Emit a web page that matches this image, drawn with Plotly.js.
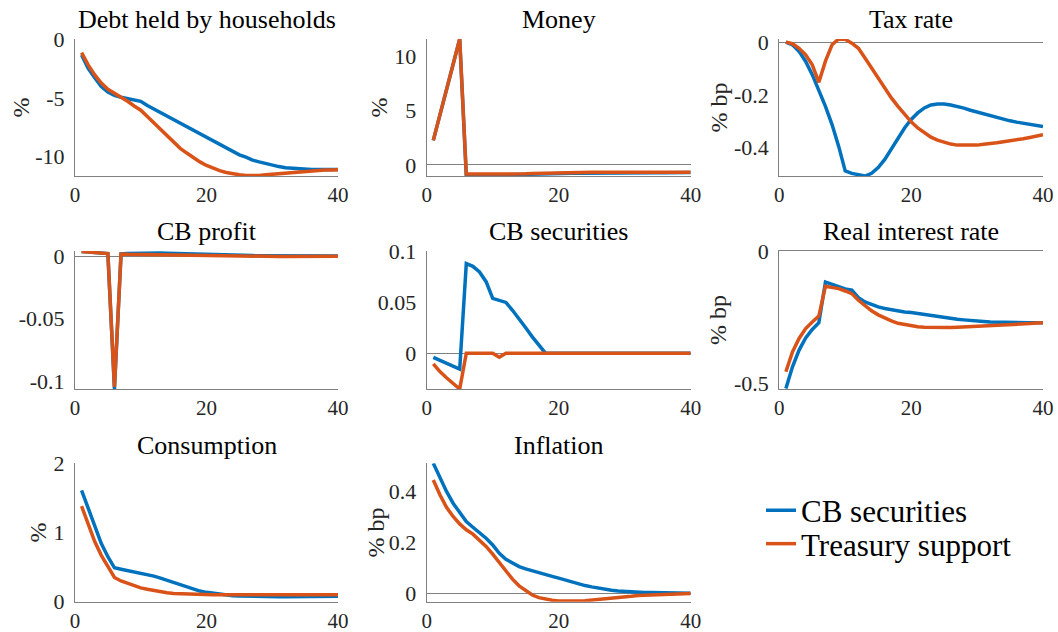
<!DOCTYPE html>
<html>
<head>
<meta charset="utf-8">
<script src="https://cdn.plot.ly/plotly-3.0.1.min.js"></script>
<style>html,body{margin:0;padding:0;background:#fff;}#chart{width:1058px;height:632px;}</style>
</head>
<body>
<div id="chart"></div>
<script>
// ---- data ----
const periods = [1,2,3,4,5,6,7,8,9,10,11,12,13,14,15,16,17,18,19,20,21,22,23,24,25,26,27,28,29,30,31,32,33,34,35,36,37,38,39,40];
const seriesNames = ["CB securities", "Treasury support"];
const panelTitles = ["Debt held by households","Money","Tax rate","CB profit","CB securities","Real interest rate","Consumption","Inflation"];
const unitLabels = ["%","%","% bp","","","% bp","%","% bp"];

const debtCB = [-1.36,-2.5,-3.3,-4.05,-4.5,-4.8,-4.95,-5.05,-5.15,-5.3,-5.65,-5.95,-6.25,-6.55,-6.85,-7.15,-7.45,-7.75,-8.05,-8.35,-8.65,-8.95,-9.3,-9.55,-9.85,-10.05,-10.3,-10.45,-10.6,-10.75,-10.85,-10.95,-11.0,-11.05,-11.08,-11.1,-11.1,-11.1,-11.1,-11.1];
const debtTS = [-1.16,-2.2,-3.05,-3.75,-4.28,-4.6,-4.95,-5.3,-5.7,-6.05,-6.6,-7.15,-7.7,-8.3,-8.8,-9.3,-9.7,-10.1,-10.45,-10.75,-11.0,-11.2,-11.35,-11.47,-11.55,-11.6,-11.62,-11.6,-11.55,-11.5,-11.45,-11.38,-11.33,-11.28,-11.24,-11.2,-11.18,-11.15,-11.14,-11.12];

const moneyCB = [2.25,4.6,6.95,9.3,11.6,-1.02,-1.0,-0.98,-0.97,-0.96,-0.95,-0.93,-0.91,-0.89,-0.87,-0.85,-0.83,-0.81,-0.8,-0.79,-0.78,-0.77,-0.77,-0.76,-0.76,-0.75,-0.75,-0.75,-0.74,-0.74,-0.74,-0.73,-0.73,-0.73,-0.72,-0.72,-0.72,-0.71,-0.71,-0.71];
const moneyTS = [2.25,4.6,6.95,9.3,11.6,-0.85,-0.85,-0.86,-0.87,-0.88,-0.89,-0.9,-0.88,-0.86,-0.83,-0.8,-0.78,-0.76,-0.74,-0.72,-0.71,-0.7,-0.7,-0.69,-0.69,-0.69,-0.68,-0.68,-0.68,-0.68,-0.68,-0.68,-0.68,-0.68,-0.68,-0.68,-0.68,-0.68,-0.68,-0.68];

const taxCB = [0,-0.01,-0.035,-0.073,-0.123,-0.18,-0.243,-0.312,-0.394,-0.488,-0.497,-0.502,-0.507,-0.497,-0.475,-0.444,-0.406,-0.362,-0.325,-0.293,-0.268,-0.249,-0.238,-0.234,-0.234,-0.238,-0.243,-0.25,-0.258,-0.265,-0.273,-0.28,-0.287,-0.293,-0.298,-0.303,-0.308,-0.312,-0.316,-0.32];
const taxTS = [0,-0.006,-0.023,-0.048,-0.086,-0.152,-0.072,-0.01,0.012,0.011,-0.004,-0.023,-0.06,-0.098,-0.136,-0.174,-0.211,-0.243,-0.274,-0.302,-0.325,-0.343,-0.36,-0.371,-0.38,-0.386,-0.39,-0.391,-0.391,-0.39,-0.387,-0.385,-0.381,-0.377,-0.374,-0.37,-0.366,-0.361,-0.356,-0.351];

const profitCB = [0.004,0.0035,0.003,0.0027,0.0024,-0.1066,0.0022,0.0024,0.0026,0.0027,0.0028,0.0028,0.0028,0.0027,0.0025,0.0023,0.0021,0.0019,0.0017,0.0015,0.0013,0.0012,0.0011,0.001,0.0009,0.0008,0.0008,0.0007,0.0007,0.0006,0.0006,0.0006,0.0005,0.0005,0.0005,0.0005,0.0005,0.0005,0.0005,0.0005];
const profitTS = [0.004,0.0035,0.003,0.0027,0.0024,-0.105,0.002,0.0018,0.0017,0.0016,0.0015,0.0014,0.0013,0.0012,0.0011,0.001,0.0009,0.0008,0.0007,0.0006,0.0005,0.0004,0.0003,0.0003,0.0002,0.0002,0.0001,0.0001,0.0001,0.0001,0.0001,0.0001,0.0001,0.0002,0.0002,0.0002,0.0002,0.0002,0.0003,0.0003];

const secCB = [-0.004,-0.007,-0.010,-0.013,-0.0156,0.0877,0.085,0.0795,0.07,0.0536,0.052,0.0497,0.042,0.034,0.025,0.016,0.008,0,0,0,0,0,0,0,0,0,0,0,0,0,0,0,0,0,0,0,0,0,0,0];
const secTS = [-0.0104,-0.018,-0.024,-0.03,-0.035,0,0,0,0,0,-0.004,0,0,0,0,0,0,0,0,0,0,0,0,0,0,0,0,0,0,0,0,0,0,0,0,0,0,0,0,0];

const realCB = [-0.519,-0.437,-0.374,-0.328,-0.296,-0.271,-0.117,-0.126,-0.136,-0.143,-0.148,-0.176,-0.192,-0.202,-0.211,-0.217,-0.222,-0.226,-0.23,-0.232,-0.236,-0.24,-0.244,-0.247,-0.251,-0.255,-0.258,-0.26,-0.263,-0.265,-0.266,-0.268,-0.269,-0.27,-0.27,-0.27,-0.271,-0.271,-0.271,-0.271];
const realTS = [-0.456,-0.381,-0.33,-0.293,-0.268,-0.246,-0.133,-0.136,-0.142,-0.151,-0.161,-0.186,-0.207,-0.226,-0.241,-0.254,-0.264,-0.273,-0.278,-0.283,-0.286,-0.288,-0.289,-0.289,-0.289,-0.289,-0.288,-0.287,-0.286,-0.285,-0.284,-0.282,-0.281,-0.28,-0.278,-0.277,-0.275,-0.274,-0.272,-0.271];

const consCB = [1.61,1.35,1.08,0.84,0.65,0.49,0.47,0.45,0.43,0.41,0.395,0.37,0.34,0.31,0.28,0.245,0.21,0.183,0.154,0.135,0.12,0.106,0.096,0.087,0.082,0.078,0.075,0.073,0.072,0.071,0.071,0.071,0.071,0.072,0.072,0.073,0.074,0.075,0.076,0.077];
const consTS = [1.38,1.11,0.87,0.67,0.51,0.35,0.30,0.265,0.23,0.20,0.18,0.16,0.14,0.13,0.12,0.115,0.11,0.108,0.105,0.103,0.1,0.1,0.1,0.1,0.1,0.1,0.1,0.1,0.1,0.1,0.1,0.1,0.1,0.1,0.1,0.1,0.1,0.1,0.1,0.1];

const inflCB = [0.508,0.45,0.398,0.352,0.313,0.28,0.258,0.237,0.215,0.189,0.156,0.133,0.117,0.104,0.095,0.087,0.081,0.074,0.066,0.059,0.051,0.043,0.037,0.03,0.025,0.02,0.016,0.012,0.009,0.007,0.005,0.004,0.003,0.003,0.002,0.001,0.001,0.001,0.0,0.0];
const inflTS = [0.443,0.385,0.336,0.30,0.271,0.248,0.231,0.209,0.183,0.153,0.12,0.085,0.055,0.029,0.01,-0.007,-0.017,-0.023,-0.027,-0.03,-0.031,-0.031,-0.03,-0.029,-0.027,-0.025,-0.022,-0.02,-0.017,-0.014,-0.012,-0.009,-0.008,-0.007,-0.005,-0.004,-0.003,-0.001,-0.001,-0.001];

const xTickVals = [0,20,40];
const xTickText = ["0","20","40"];
const yTickVals = [[-10,-5,0],[0,5,10],[-0.4,-0.2,0],[-0.1,-0.05,0],[0,0.05,0.1],[-0.5,0],[0,1,2],[0,0.2,0.4]];
const yTickText = [["-10","-5","0"],["0","5","10"],["-0.4","-0.2","0"],["-0.1","-0.05","0"],["0","0.05","0.1"],["-0.5","0"],["0","1","2"],["0","0.2","0.4"]];
const yRanges = [[-11.65,0],[-1.03,11.6],[-0.507,0.012],[-0.1066,0.0045],[-0.035,0.1],[-0.521,0],[0,2],[-0.033,0.508]];
const cbSeries = [debtCB, moneyCB, taxCB, profitCB, secCB, realCB, consCB, inflCB];
const tsSeries = [debtTS, moneyTS, taxTS, profitTS, secTS, realTS, consTS, inflTS];

// ---- layout / styling ----
const W = 1058, H = 632;
const colPx = [[75,338],[426.7,690.7],[779.3,1043]];
const rowPx = [[39,176],[251,389],[463.3,601.7]];
const titleY = [20,232,445];
const ylabX = [20,378,718,0,0,718,37,375];
const zeroLine = [false,true,true,true,true,false,false,true];
const mirrorTop = [false,false,false,false,false,true,false,false];
const colors = ["#0072BD","#D95319"];
const serifFamily = "Liberation Serif";
const axisGray = "#808080";

const traces = [];
const layout = {
  width: W, height: H,
  margin: {l:0,r:0,t:0,b:0},
  paper_bgcolor: "#ffffff", plot_bgcolor: "#ffffff",
  showlegend: true,
  legend: {x: 761/W, xanchor: "left", y: 1-510.5/H, yanchor: "middle", bgcolor: "rgba(0,0,0,0)", borderwidth: 0, font: {family: serifFamily, size: 31, color: "#000"}},
  legend2: {x: 761/W, xanchor: "left", y: 1-544/H, yanchor: "middle", bgcolor: "rgba(0,0,0,0)", borderwidth: 0, font: {family: serifFamily, size: 31, color: "#000"}},
  annotations: []
};

for (let i = 0; i < 8; i++) {
  const r = Math.floor(i/3), c = i % 3;
  const n = i + 1;
  const xa = "x" + (n === 1 ? "" : n), ya = "y" + (n === 1 ? "" : n);
  const xk = "xaxis" + (n === 1 ? "" : n), yk = "yaxis" + (n === 1 ? "" : n);
  [cbSeries[i], tsSeries[i]].forEach((s, k) => {
    traces.push({
      x: periods, y: s, type: "scatter", mode: "lines",
      line: {color: colors[k], width: 3.5},
      name: seriesNames[k], showlegend: i === 0,
      legend: k === 0 ? "legend" : "legend2",
      xaxis: xa, yaxis: ya, hoverinfo: "skip"
    });
  });
  layout[xk] = {
    domain: [colPx[c][0]/W, colPx[c][1]/W], anchor: ya,
    range: [0,40], tickvals: xTickVals, ticktext: xTickText,
    showgrid: false, zeroline: false, showline: true, linecolor: axisGray, linewidth: 1.2,
    mirror: mirrorTop[i], ticks: "", ticklabelstandoff: 0,
    tickfont: {family: serifFamily, size: 21, color: "#262626"}, fixedrange: true
  };
  layout[yk] = {
    domain: [1-rowPx[r][1]/H, 1-rowPx[r][0]/H], anchor: xa,
    range: yRanges[i], tickvals: yTickVals[i], ticktext: yTickText[i],
    showgrid: false, zeroline: zeroLine[i], zerolinecolor: axisGray, zerolinewidth: 1.2,
    showline: true, linecolor: axisGray, linewidth: 1.2, ticks: "", ticklabelstandoff: 5,
    tickfont: {family: serifFamily, size: 22, color: "#262626"}, fixedrange: true
  };
  layout.annotations.push({
    text: panelTitles[i], xref: "paper", yref: "paper",
    x: (colPx[c][0]+colPx[c][1])/2/W, y: 1-titleY[r]/H,
    xanchor: "center", yanchor: "middle", showarrow: false,
    font: {family: serifFamily, size: 26, color: "#000"}
  });
  if (unitLabels[i]) {
    layout.annotations.push({
      text: unitLabels[i], xref: "paper", yref: "paper",
      x: ylabX[i]/W, y: 1-(rowPx[r][0]+rowPx[r][1])/2/H,
      xanchor: "center", yanchor: "middle", textangle: -90, showarrow: false,
      font: {family: serifFamily, size: 24, color: "#262626"}
    });
  }
}

Plotly.newPlot("chart", traces, layout, {displayModeBar: false});
</script>
</body>
</html>
